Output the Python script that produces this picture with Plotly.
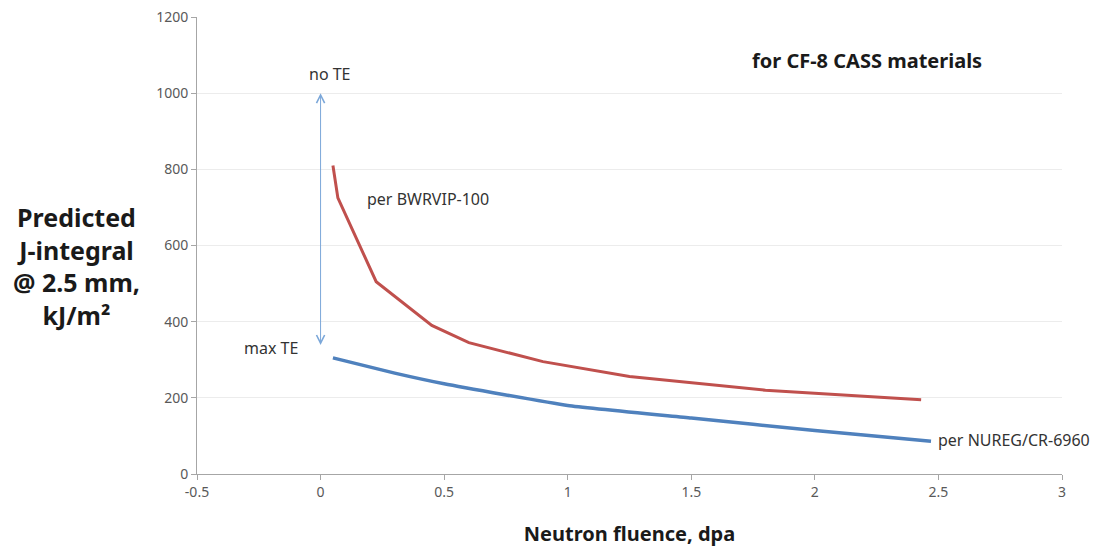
import plotly.graph_objects as go

# Data
bwrvip_x = [0.05, 0.07, 0.225, 0.45, 0.6, 0.9, 1.25, 1.8, 2.43]
bwrvip_y = [810, 725, 505, 390, 345, 295, 256, 220, 195]

nureg_x = [0.05, 0.3, 0.5, 1.0, 1.5, 2.0, 2.47]
nureg_y = [305, 265, 237, 180, 147, 114, 86]

arrow_x = 0.0
arrow_top = 1000
arrow_bottom = 335

x_ticks = [-0.5, 0, 0.5, 1, 1.5, 2, 2.5, 3]
x_tick_labels = ["-0.5", "0", "0.5", "1", "1.5", "2", "2.5", "3"]
y_ticks = [0, 200, 400, 600, 800, 1000, 1200]

FONT = "Noto Sans, sans-serif"

fig = go.Figure()
fig.add_trace(go.Scatter(x=bwrvip_x, y=bwrvip_y, mode="lines",
                         line=dict(color="#c0504d", width=3), name="BWRVIP-100"))
fig.add_trace(go.Scatter(x=nureg_x, y=nureg_y, mode="lines",
                         line=dict(color="#4f81bd", width=3.5, shape="spline", smoothing=0.4),
                         name="NUREG/CR-6960"))

# double-headed arrow
fig.add_annotation(x=arrow_x, y=arrow_top, ax=arrow_x, ay=arrow_bottom,
                   xref="x", yref="y", axref="x", ayref="y",
                   showarrow=True, arrowside="end+start", arrowhead=5,
                   arrowsize=1.6, arrowwidth=1, arrowcolor="#7ba7d9", text="")

ann_font = dict(family=FONT, size=16, color="#333333")
fig.add_annotation(x=0.04, y=1050, text="no TE", showarrow=False, font=ann_font,
                   xanchor="center", yanchor="middle")
fig.add_annotation(x=-0.2, y=330, text="max TE", showarrow=False, font=ann_font,
                   xanchor="center", yanchor="middle")
fig.add_annotation(x=0.18, y=722, text="per BWRVIP-100", showarrow=False, xanchor="left",
                   yanchor="middle", font=ann_font)
fig.add_annotation(x=2.49, y=90, text="per NUREG/CR-6960", showarrow=False, xanchor="left",
                   yanchor="middle", font=ann_font)
fig.add_annotation(x=0.775, y=0.905, xref="paper", yref="paper",
                   xanchor="center", yanchor="middle",
                   text="<b>for CF-8 CASS materials</b>", showarrow=False,
                   font=dict(family=FONT, size=20, color="#1a1a1a"))

fig.add_annotation(x=-0.139, y=0.455, xref="paper", yref="paper",
                   xanchor="center", yanchor="middle",
                   text="<b>Predicted<br>J-integral<br>@ 2.5 mm,<br>kJ/m²</b>",
                   showarrow=False, align="center",
                   font=dict(family=FONT, size=25, color="#1a1a1a"))

fig.update_layout(
    width=1108, height=555,
    margin=dict(l=189, r=54, t=9, b=89),
    paper_bgcolor="white", plot_bgcolor="white",
    showlegend=False,
    font=dict(family=FONT, size=12, color="#595959"),
    xaxis=dict(range=[-0.5, 3], tickvals=x_ticks, ticktext=x_tick_labels,
               showgrid=False, zeroline=False, showline=True, linecolor="#a6a6a6",
               ticks="outside", ticklen=5, tickcolor="#a6a6a6",
               tickfont=dict(family=FONT, size=14, color="#595959"),
               title=dict(text="<b>Neutron fluence, dpa</b>", standoff=27,
                          font=dict(family=FONT, size=20, color="#1a1a1a"))),
    yaxis=dict(range=[0, 1200], tickvals=y_ticks, automargin=False,
               showgrid=True, gridcolor="#ececec", zeroline=False,
               showline=True, linecolor="#a6a6a6",
               ticks="outside", ticklen=5, tickcolor="#a6a6a6",
               ticklabeloverflow="allow",
               tickfont=dict(family=FONT, size=14, color="#595959")),
)

fig.write_html("out.html")
